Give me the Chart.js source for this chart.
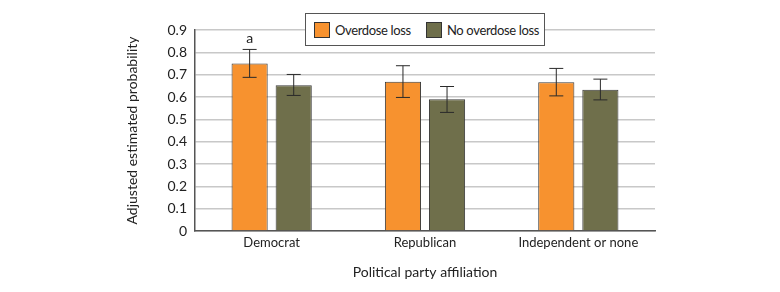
<!DOCTYPE html>
<html>
<head>
<meta charset="utf-8">
<script src="https://cdn.jsdelivr.net/npm/chart.js@4/dist/chart.umd.min.js"></script>
<style>
  html, body { margin: 0; padding: 0; background: #fff; }
  #wrap { position: relative; width: 780px; height: 292px; }
  #legend {
    position: absolute; left: 305px; top: 13px; width: 238px; height: 31px;
    border: 1px solid #555; background: #fff;
    font-family: Lato, "Open Sans", sans-serif;
    font-size: 13px; letter-spacing: -0.35px; color: #222;
  }
  #legend .item { position: absolute; top: 8px; height: 16px; line-height: 16px; }
  #legend .sw { position: absolute; left: 0; top: 0; width: 16px; height: 16px; border: 1px solid #333; box-sizing: border-box; }
  #legend .lbl { position: absolute; left: 21px; top: 0; white-space: nowrap; }
</style>
</head>
<body>
<div id="wrap">
  <canvas id="chart" width="780" height="292"></canvas>
  <div id="legend">
    <div class="item" style="left:8px"><span class="sw" style="background:#f7922f"></span><span class="lbl">Overdose loss</span></div>
    <div class="item" style="left:120px"><span class="sw" style="background:#6f6f4b"></span><span class="lbl">No overdose loss</span></div>
  </div>
</div>
<script>
var categories = ['Democrat', 'Republican', 'Independent or none'];
var seriesNames = ['Overdose loss', 'No overdose loss'];
var overdoseValues = [0.75, 0.668, 0.666];
var overdoseLow = [0.688, 0.598, 0.605];
var overdoseHigh = [0.813, 0.74, 0.728];
var noOverdoseValues = [0.653, 0.59, 0.632];
var noOverdoseLow = [0.607, 0.531, 0.587];
var noOverdoseHigh = [0.701, 0.647, 0.68];
var overdoseNotes = ['a', '', ''];
var yTicks = [0, 0.1, 0.2, 0.3, 0.4, 0.5, 0.6, 0.7, 0.8, 0.9];

var FONT = 'Lato, "Open Sans", sans-serif';

// draws the CI whiskers and the "a" note
var errorBars = {
    id: 'errorBars',
    afterDatasetsDraw: function(chart) {
        var ctx = chart.ctx;
        var y = chart.scales.y;
        chart.data.datasets.forEach(function(ds, di) {
            var meta = chart.getDatasetMeta(di);
            meta.data.forEach(function(bar, i) {
                var yl = y.getPixelForValue(ds.low[i]);
                var yh = y.getPixelForValue(ds.high[i]);
                ctx.save();
                ctx.strokeStyle = '#2a2a2a';
                ctx.lineWidth = 1;
                ctx.beginPath();
                ctx.moveTo(bar.x, yl); ctx.lineTo(bar.x, yh);
                ctx.moveTo(bar.x - 7, yl); ctx.lineTo(bar.x + 7, yl);
                ctx.moveTo(bar.x - 7, yh); ctx.lineTo(bar.x + 7, yh);
                ctx.stroke();
                if (ds.notes && ds.notes[i]) {
                    ctx.fillStyle = '#222';
                    ctx.font = '14px ' + FONT;
                    ctx.textAlign = 'center';
                    ctx.textBaseline = 'bottom';
                    ctx.fillText(ds.notes[i], bar.x, yh - 4);
                }
                ctx.restore();
            });
        });
    }
};

new Chart(document.getElementById('chart').getContext('2d'), {
    type: 'bar',
    data: {
        labels: categories,
        datasets: [{
            label: seriesNames[0],
            data: overdoseValues,
            low: overdoseLow,
            high: overdoseHigh,
            notes: overdoseNotes,
            backgroundColor: '#f7922f',
            borderColor: '#3a3a3a',
            borderWidth: 1,
            categoryPercentage: 0.575,
            barPercentage: 0.82
        }, {
            label: seriesNames[1],
            data: noOverdoseValues,
            low: noOverdoseLow,
            high: noOverdoseHigh,
            backgroundColor: '#6f6f4b',
            borderColor: '#3a3a3a',
            borderWidth: 1,
            categoryPercentage: 0.575,
            barPercentage: 0.82
        }]
    },
    options: {
        responsive: false,
        animation: false,
        layout: { padding: { left: 120, right: 125, top: 30, bottom: 0 } },
        plugins: { legend: { display: false }, tooltip: { enabled: false } },
        scales: {
            x: {
                grid: { display: false, tickLength: 0 },
                border: { color: '#555', width: 1.5 },
                ticks: { color: '#222', font: { family: FONT, size: 13 }, padding: 4 },
                title: { display: true, text: 'Political party affiliation', color: '#222', font: { family: FONT, size: 14 }, padding: { top: 0, bottom: 11 } },
                afterFit: function(s) { s.height = 61; }
            },
            y: {
                min: 0, max: 0.9,
                afterBuildTicks: function(s) { s.ticks = yTicks.map(function(v) { return { value: v }; }); },
                grid: { color: '#c8c8c8', lineWidth: 1.5, tickLength: 0 },
                border: { color: '#555', width: 1.5 },
                ticks: { color: '#222', font: { family: FONT, size: 14 }, padding: 8 },
                title: { display: true, text: 'Adjusted estimated probability', color: '#222', font: { family: FONT, size: 14 }, padding: { top: 4, bottom: 0 } },
                afterFit: function(s) { s.width = 75; }
            }
        }
    },
    plugins: [errorBars]
});
</script>
</body>
</html>
